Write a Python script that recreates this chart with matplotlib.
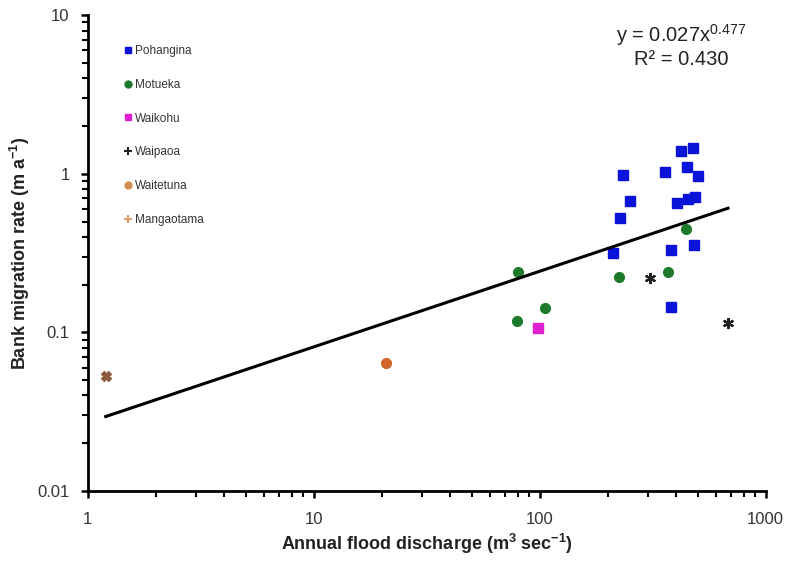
import matplotlib.pyplot as plt
from matplotlib.lines import Line2D
import numpy as np

plt.rcParams['font.family'] = ['Liberation Sans', 'DejaVu Sans']
plt.rcParams['mathtext.default'] = 'regular'

# annual flood discharge (m3/s) and bank migration rate (m/a) per river
pohangina_q = [234, 357, 424, 477, 449, 502, 250, 403, 453, 485, 226, 210, 380, 482, 380]
pohangina_m = [0.98, 1.03, 1.39, 1.46, 1.11, 0.97, 0.672, 0.65, 0.69, 0.709, 0.53, 0.315, 0.33, 0.358, 0.145]
motueka_q = [80, 106, 79, 224, 370, 443]
motueka_m = [0.241, 0.142, 0.118, 0.224, 0.241, 0.448]
waikohu_q = [98]
waikohu_m = [0.106]
waipaoa_q = [307, 681]
waipaoa_m = [0.219, 0.114]
waitetuna_q = [20.8]
waitetuna_m = [0.064]
mangaotama_q = [1.2]
mangaotama_m = [0.053]

# power-law fit
fit_a = 0.027
fit_b = 0.477

fig = plt.figure(figsize=(7.91, 5.63), dpi=100)
ax = fig.add_axes([0.111, 0.128, 0.857, 0.845])

ax.plot(pohangina_q, pohangina_m, 's', color='#0a14d8', ms=7, ls='none')
ax.plot(motueka_q, motueka_m, 'o', color='#1c7a2a', ms=7, ls='none')
ax.plot(waikohu_q, waikohu_m, 's', color='#e020d0', ms=7, ls='none')
ax.plot(waipaoa_q, waipaoa_m, marker=(6, 2, 0), color='#222222', ms=8, mew=1.6, ls='none')
ax.plot(waitetuna_q, waitetuna_m, 'o', color='#d0662a', ms=7, ls='none')
ax.plot(mangaotama_q, mangaotama_m, 'X', color='#8a5a3a', ms=7, ls='none')

all_q = np.concatenate([pohangina_q, motueka_q, waikohu_q, waipaoa_q, waitetuna_q, mangaotama_q])
xq = np.array([all_q.min(), all_q.max()])
ax.plot(xq, fit_a * xq ** fit_b, color='black', lw=2.2)

ax.set_xscale('log')
ax.set_yscale('log')
ax.set_xlim(1, 1000)
ax.set_ylim(0.01, 10)
ax.set_xticks([1, 10, 100, 1000])
ax.set_xticklabels(['1', '10', '100', '1000'])
ax.set_yticks([0.01, 0.1, 1, 10])
ax.set_yticklabels(['0.01', '0.1', '1', '10'])

for s in ['top', 'right']:
    ax.spines[s].set_visible(False)
for s in ['left', 'bottom']:
    ax.spines[s].set_linewidth(2)
ax.tick_params(which='major', direction='out', length=5, width=1.8, labelsize=12, labelcolor='#333333')
ax.tick_params(which='minor', direction='out', length=4, width=1.5)
ax.tick_params(axis='x', pad=10)
ax.tick_params(axis='y', pad=8)

ax.set_xlabel('Annual flood discharge (m$^{3}$ sec$^{-1}$)', fontsize=13, fontweight='bold', color='#222222')
ax.set_ylabel('Bank migration rate (m a$^{-1}$)', fontsize=13, fontweight='bold', color='#222222')

ax.text(0.875, 0.985, 'y = 0.027x$^{0.477}$\nR² = 0.430', transform=ax.transAxes,
        ha='center', va='top', fontsize=14.5, color='#222222', linespacing=1.15)

handles = [
    Line2D([], [], marker='s', color='#0a14d8', ls='none', ms=5),
    Line2D([], [], marker='o', color='#1c7a2a', ls='none', ms=5),
    Line2D([], [], marker='s', color='#e020d0', ls='none', ms=5),
    Line2D([], [], marker='+', color='#222222', ls='none', ms=6, mew=1.5),
    Line2D([], [], marker='o', color='#d09050', ls='none', ms=5),
    Line2D([], [], marker='+', color='#e0a070', ls='none', ms=6, mew=1.5),
]
labels = ['Pohangina', 'Motueka', 'Waikohu', 'Waipaoa', 'Waitetuna', 'Mangaotama']
ax.legend(handles, labels, loc='upper left', bbox_to_anchor=(0.035, 0.96), frameon=False,
          fontsize=8.5, labelspacing=1.85, handletextpad=0.05, handlelength=1.0,
          labelcolor='#333333')

fig.savefig('out.png', dpi=100)
